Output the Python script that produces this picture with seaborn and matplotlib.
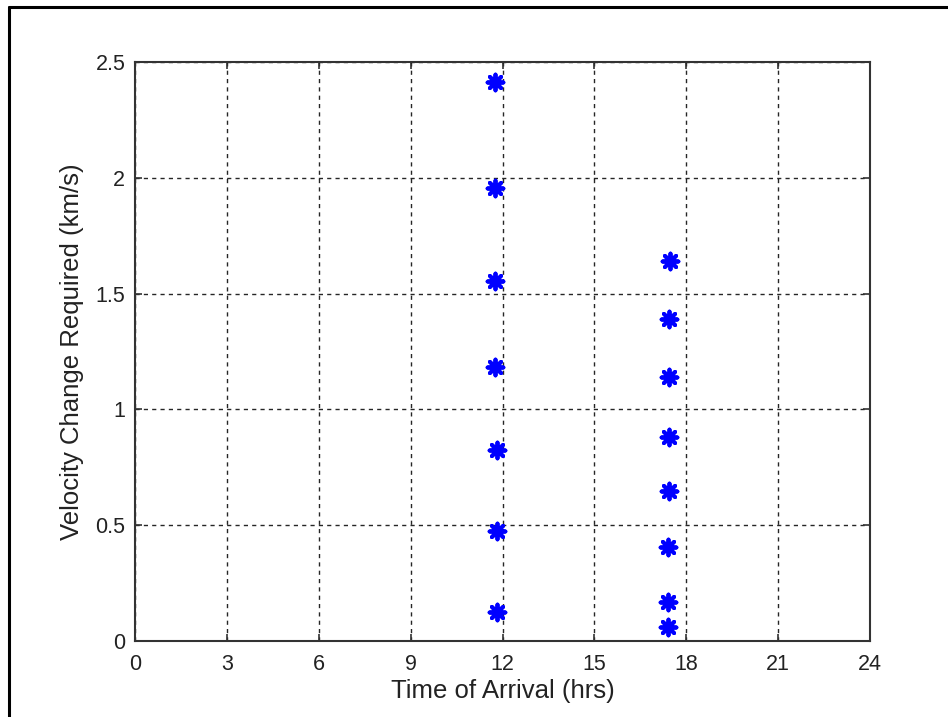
import matplotlib
matplotlib.use("Agg")
import matplotlib.pyplot as plt
from matplotlib.lines import Line2D
import seaborn as sns
import pandas as pd

# Data
arrival_left = [11.76, 11.76, 11.76, 11.76, 11.81, 11.81, 11.81]
dv_left = [2.415, 1.957, 1.556, 1.182, 0.825, 0.476, 0.127]
arrival_right = [17.47, 17.45, 17.45, 17.45, 17.45, 17.40, 17.40, 17.40]
dv_right = [1.642, 1.389, 1.139, 0.882, 0.648, 0.407, 0.170, 0.062]
x_ticks = [0, 3, 6, 9, 12, 15, 18, 21, 24]
y_ticks = [0, 0.5, 1, 1.5, 2, 2.5]
y_tick_labels = ["0", "0.5", "1", "1.5", "2", "2.5"]

df = pd.DataFrame({
    "t": arrival_left + arrival_right,
    "dv": dv_left + dv_right,
})

sns.set_style("white")
plt.rcParams["font.family"] = ["Liberation Sans", "DejaVu Sans"]

fig = plt.figure(figsize=(9.48, 7.17), dpi=100)
ax = fig.add_axes([135 / 948, 1 - 641 / 717, (870 - 135) / 948, (641 - 62) / 717])

sns.scatterplot(data=df, x="t", y="dv", ax=ax, marker=(8, 2, 0), s=130,
                color="blue", edgecolor="blue", linewidth=2.8, zorder=3)

ax.set_xlim(0, 24)
ax.set_ylim(0, 2.5)
ax.set_xticks(x_ticks)
ax.set_xticklabels([str(v) for v in x_ticks])
ax.set_yticks(y_ticks)
ax.set_yticklabels(y_tick_labels)

ax.grid(True, color="black", linestyle=(0, (3, 3)), linewidth=1.0, alpha=0.85)
ax.set_axisbelow(True)
for s in ax.spines.values():
    s.set_visible(True)
    s.set_color("#333333")
    s.set_linewidth(1.5)

ax.tick_params(axis="both", direction="in", length=5, width=1.2, colors="#333333",
               labelcolor="#222222", labelsize=15.5, top=True, right=True,
               bottom=True, left=True)
ax.tick_params(axis="x", pad=9)
ax.tick_params(axis="y", pad=7)

ax.set_xlabel("Time of Arrival (hrs)", fontsize=18.5, color="#222222", labelpad=3)
ax.set_ylabel("Velocity Change Required (km/s)", fontsize=18.5, color="#222222", labelpad=8)

# Outer frame (left and top edges as in the reference)
fig.add_artist(Line2D([8.5 / 948, 8.5 / 948], [0, 1 - 6.5 / 717], transform=fig.transFigure,
                      color="black", linewidth=2.2))
fig.add_artist(Line2D([8.5 / 948, 1], [1 - 6.5 / 717, 1 - 6.5 / 717], transform=fig.transFigure,
                      color="black", linewidth=2.2))

fig.savefig("out.png", dpi=100)
